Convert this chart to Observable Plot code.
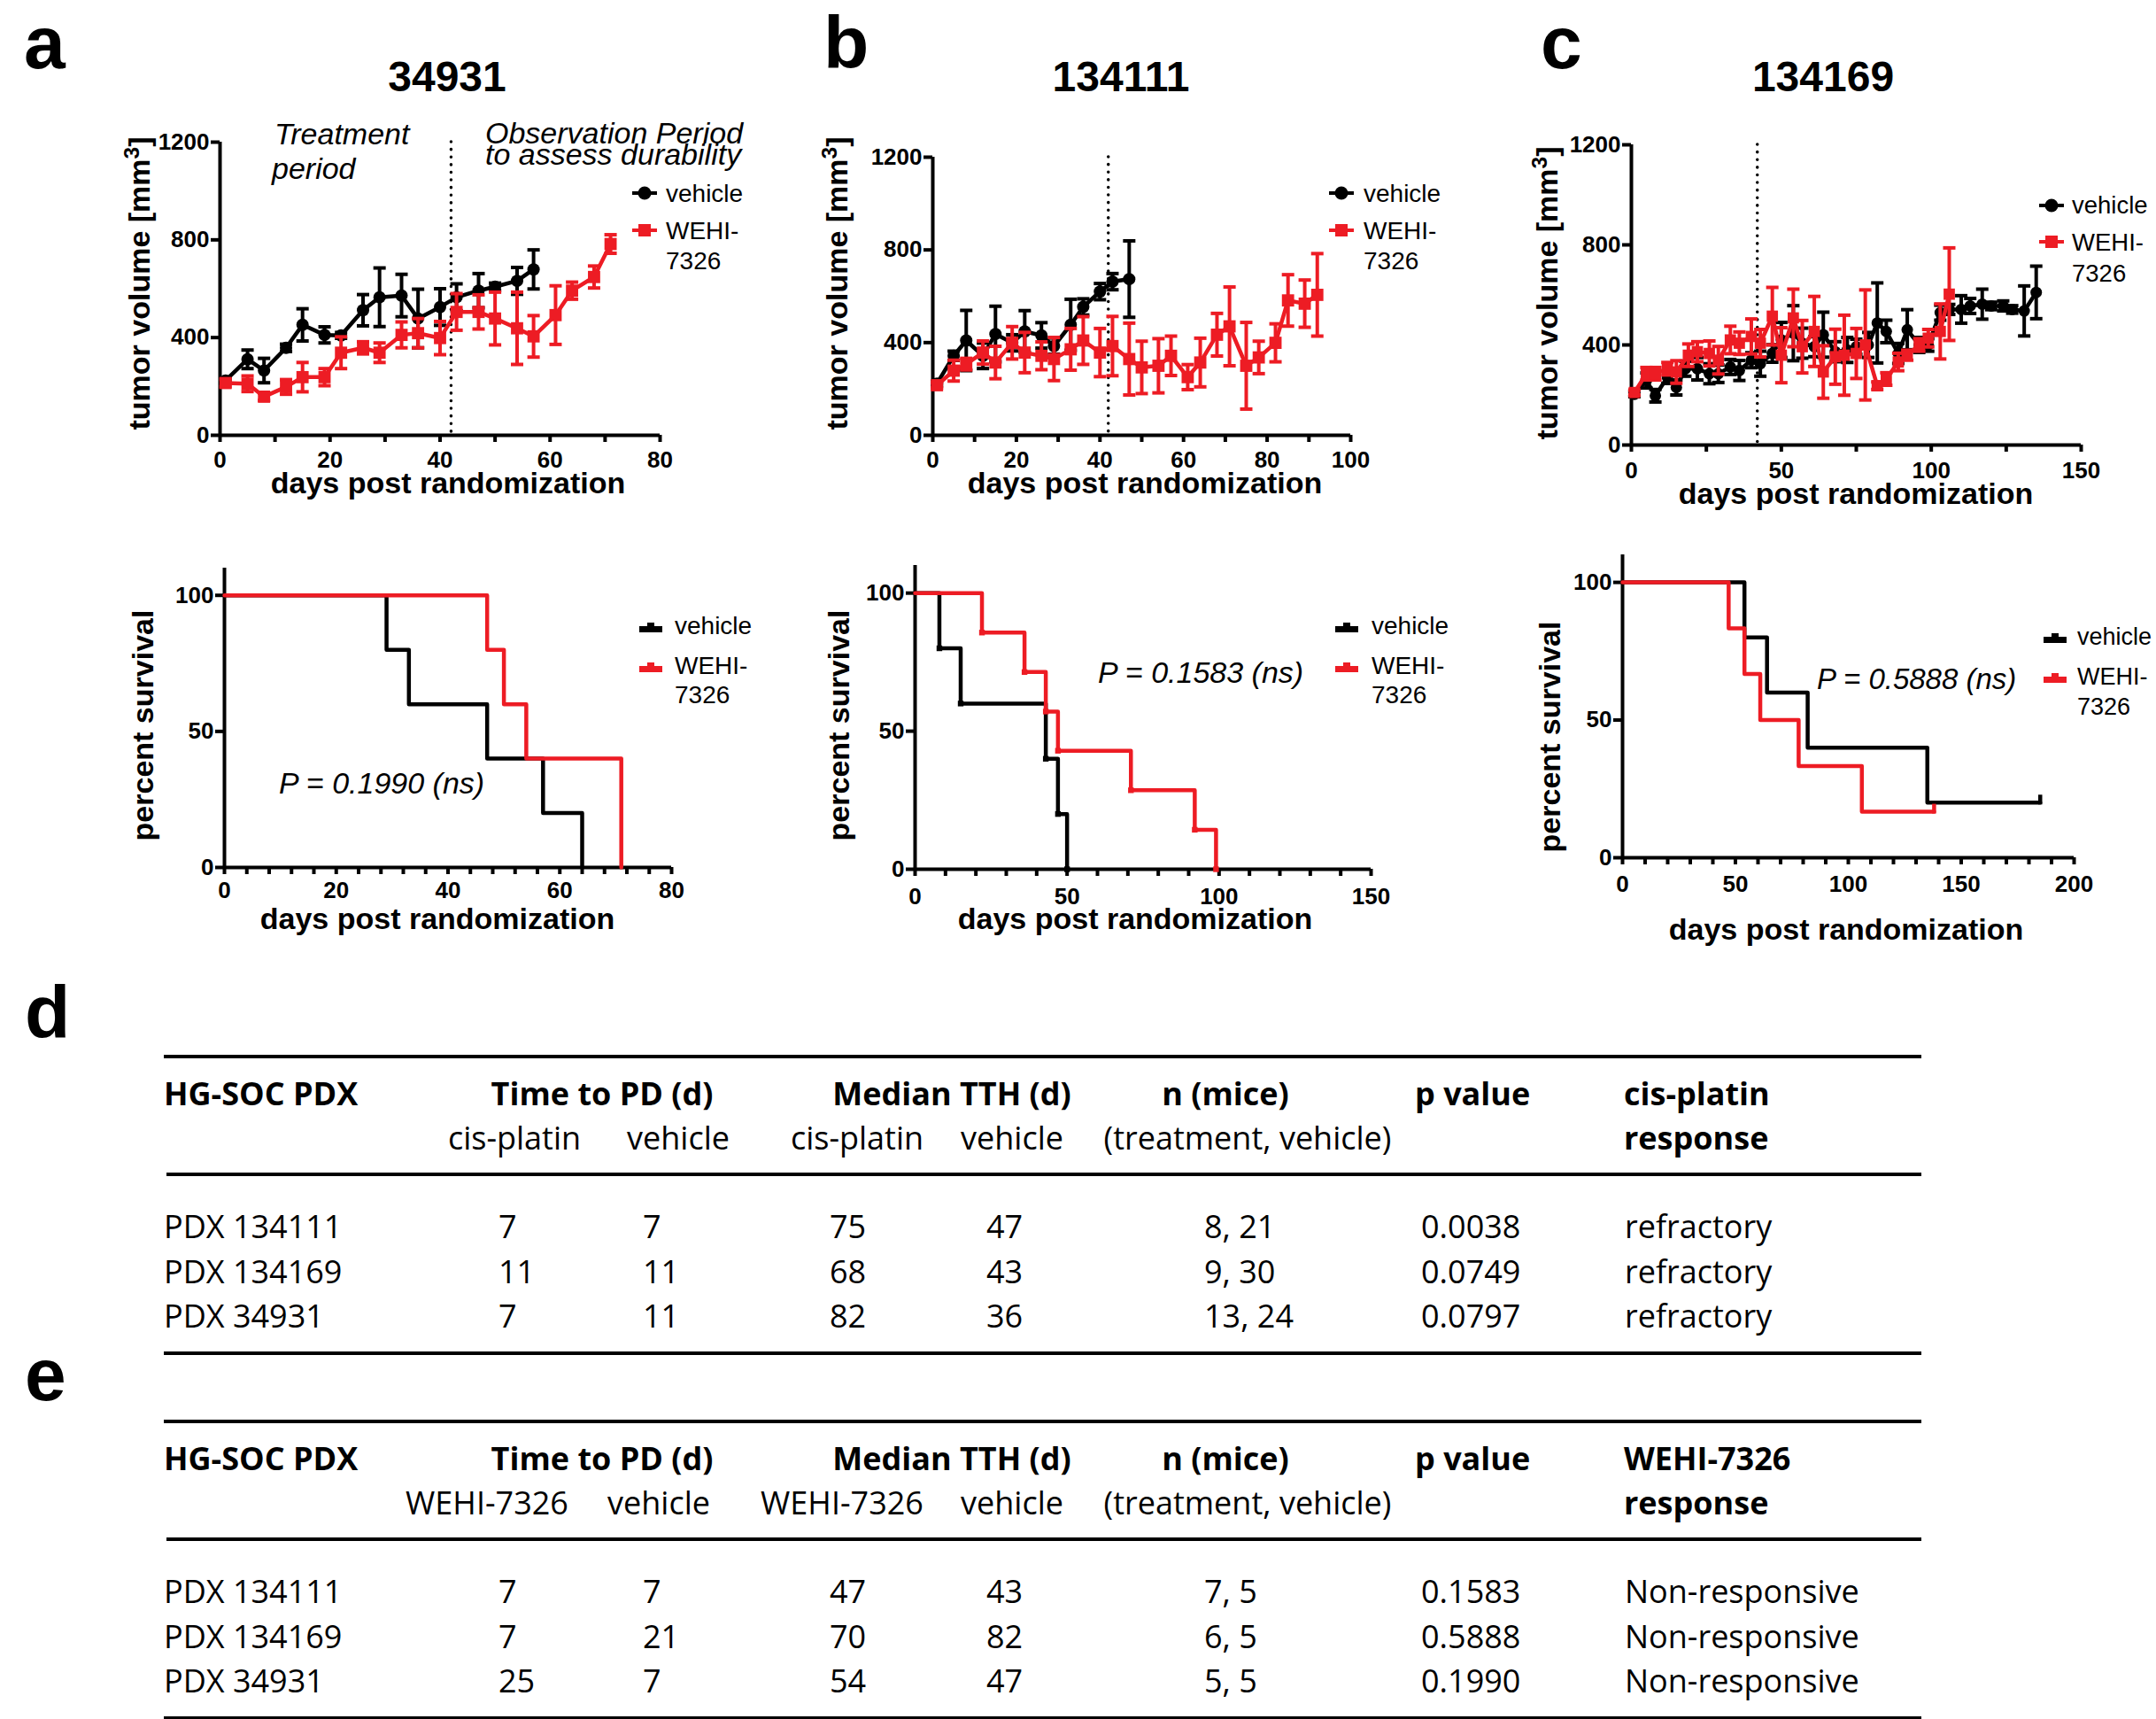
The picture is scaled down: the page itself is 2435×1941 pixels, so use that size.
<!DOCTYPE html>
<html><head><meta charset="utf-8">
<script src="https://cdn.jsdelivr.net/npm/d3@7"></script>
<script src="https://cdn.jsdelivr.net/npm/@observablehq/plot@0.6"></script>
<style>
html,body{margin:0;padding:0;background:#fff;}
#page{position:relative;width:2435px;height:1941px;overflow:hidden;background:#fff;color:#000;}
.abs{position:absolute;white-space:nowrap;line-height:1;}
.sup{font-size:0.72em;position:relative;top:-0.5em;}
</style></head><body><div id="page"></div>
<script>
// ---------------- DATA ----------------
const RED = "#ED1C24";
const treatmentEnd = [42];

// a: PDX 34931 tumour volume (mm3)
const a_vehDays  = [1,5,8,12,15,19,22,26,29,33,36,40,43,47,50,54,57];
const a_vehVol   = [224,311,265,358,452,411,409,512,565,572,478,525,565,592,608,632,679];
const a_vehErr   = [10,38,50,15,66,33,12,64,120,87,120,75,55,70,15,55,80];
const a_wehiDays = [1,5,8,12,15,19,22,26,29,33,36,40,43,47,50,54,57,61,64,68,71];
const a_wehiVol  = [214,211,158,198,238,238,338,358,338,411,418,398,505,505,478,438,405,492,592,648,783];
const a_wehiErr  = [15,32,15,30,60,35,65,25,40,53,60,68,75,70,108,148,85,120,35,45,38];

// b: PDX 134111 tumour volume
const b_vehDays  = [1,5,8,12,15,19,22,26,29,33,36,40,43,47];
const b_vehVol   = [223,343,409,343,437,399,448,431,385,477,554,620,663,674];
const b_vehErr   = [10,20,130,55,120,35,90,55,35,110,35,35,35,165];
const b_wehiDays = [1,5,8,12,15,19,22,26,29,33,36,40,43,47,50,54,57,61,64,68,71,75,78,82,85,89,92];
const b_wehiVol  = [216,279,307,357,314,399,357,343,329,371,409,357,385,329,293,300,343,251,314,434,470,300,336,399,582,568,606];
const b_wehiErr  = [12,45,25,50,70,70,87,60,93,90,103,104,128,155,113,117,85,54,105,92,170,187,70,82,111,102,178];

// c: PDX 134169 tumour volume
const c_vehDays  = [1,5,8,12,15,18,22,26,29,33,36,40,43,47,50,54,57,61,64,68,72,75,79,82,85,89,92,96,99,103,106,110,113,117,120,124,127,131,135];
const c_vehVol   = [203,258,197,271,230,305,305,285,285,312,298,339,325,366,420,447,407,393,441,373,380,393,400,488,454,366,461,400,400,529,542,542,556,563,556,556,542,536,610];
const c_vehErr   = [10,30,25,25,30,30,45,40,35,30,40,30,50,35,70,110,60,40,90,40,50,30,50,160,45,40,80,30,25,30,20,55,30,60,15,20,15,100,105];
const c_wehiDays = [1,5,8,12,15,19,22,26,29,33,36,40,43,47,50,54,57,61,64,68,71,75,78,82,85,89,92,96,99,103,106];
const c_wehiVol  = [210,285,285,305,292,359,373,366,339,420,407,434,407,515,359,508,393,454,292,353,359,366,400,237,264,332,359,400,427,454,603];
const c_wehiErr  = [10,25,25,25,45,45,40,50,55,55,45,70,55,115,110,115,105,140,105,110,160,100,220,15,25,35,20,25,35,110,185];

// Kaplan-Meier survival (days, percent)
const a_kmVehT  = [0,29,33,47,57,64];        const a_kmVehS  = [100,80,60,40,20,0];
const a_kmWehiT = [0,47,50,54,71];           const a_kmWehiS = [100,80,60,40,0];
const b_kmVehT  = [0,8,15,43,47,50];         const b_kmVehS  = [100,80,60,40,20,0];
const b_kmWehiT = [0,22,36,43,47,71,92,99];  const b_kmWehiS = [100,85.7,71.4,57.1,42.9,28.6,14.3,0];
const c_kmVehT  = [0,54,64,82,135,185];      const c_kmVehS  = [100,80,60,40,20,20];
const c_kmWehiT = [0,47,54,61,78,106,138];   const c_kmWehiS = [100,83.3,66.7,50,33.3,16.7,16.7];

// tick values
const tumorYTicks = [0,400,800,1200];
const survYTicks = [0,50,100];
const a_xTicks = [0,20,40,60,80], a_xMinor = [10,30,50,70];
const b_xTicks = [0,20,40,60,80,100], b_xMinor = [10,30,50,70,90];
const c_xTicks = [0,50,100,150], c_xMinor = [25,75,125];
const a2_xTicks = [0,20,40,60,80], a2_xMinor = [4,8,12,16,24,28,32,36,44,48,52,56,64,68,72,76];
const b2_xTicks = [0,50,100,150], b2_xMinor = [10,20,30,40,60,70,80,90,110,120,130,140];
const c2_xTicks = [0,50,100,150,200], c2_xMinor = [10,20,30,40,60,70,80,90,110,120,130,140,160,170,180,190];

const titles = ["34931","134111","134169"];
const pValues = ["P = 0.1990 (ns)","P = 0.1583 (ns)","P = 0.5888 (ns)"];
const seriesNames = ["vehicle","WEHI-","7326"];

// tables
const tableHead1 = ["HG-SOC PDX","Time to PD (d)","Median TTH (d)","n (mice)","p value"];
const tableD_drug = "cis-platin", tableE_drug = "WEHI-7326";
const tableSub = ["vehicle","(treatment, vehicle)","response"];
const tableD_pdx = ["PDX 134111","PDX 134169","PDX 34931"];
const tableD_ttpT = ["7","11","7"],  tableD_ttpV = ["7","11","11"];
const tableD_tthT = ["75","68","82"], tableD_tthV = ["47","43","36"];
const tableD_n = ["8, 21","9, 30","13, 24"];
const tableD_p = ["0.0038","0.0749","0.0797"];
const tableD_resp = ["refractory","refractory","refractory"];
const tableE_pdx = ["PDX 134111","PDX 134169","PDX 34931"];
const tableE_ttpT = ["7","7","25"],  tableE_ttpV = ["7","21","7"];
const tableE_tthT = ["47","70","54"], tableE_tthV = ["43","82","47"];
const tableE_n = ["7, 5","6, 5","5, 5"];
const tableE_p = ["0.1583","0.5888","0.1990"];
const tableE_resp = ["Non-responsive","Non-responsive","Non-responsive"];

// ---------------- HELPERS ----------------
const page = document.getElementById("page");
const SANS = "'Liberation Sans', Arial, Helvetica, sans-serif";
const TAB = "'Open Sans', 'Noto Sans', sans-serif";

function txt(content, x, base, o = {}) {
  const size = o.size || 28, fam = o.family || SANS;
  const k = fam === TAB ? 0.888 : 0.8465;
  const d = document.createElement("div");
  d.className = "abs";
  d.innerHTML = content;
  Object.assign(d.style, {fontFamily: fam, fontSize: size + "px", fontWeight: o.weight || "normal",
    fontStyle: o.italic ? "italic" : "normal", left: x + "px", top: (base - k * size) + "px"});
  if (o.anchor === "middle") d.style.transform = "translateX(-50%)";
  if (o.anchor === "end") d.style.transform = "translateX(-100%)";
  page.appendChild(d);
}
function vtxt(content, cx, cy, size) {
  const d = document.createElement("div");
  d.className = "abs";
  d.innerHTML = content;
  Object.assign(d.style, {fontFamily: SANS, fontSize: size + "px", fontWeight: "bold",
    left: cx + "px", top: cy + "px", transform: "translate(-50%,-50%) rotate(-90deg)"});
  page.appendChild(d);
}
function hline(x0, x1, y, w) {
  const d = document.createElement("div");
  Object.assign(d.style, {position: "absolute", left: x0 + "px", width: (x1 - x0) + "px",
    top: (y - w / 2) + "px", height: w + "px", background: "#000"});
  page.appendChild(d);
}
function svgAt(markup, x, y, w, h) {
  const d = document.createElement("div");
  Object.assign(d.style, {position: "absolute", left: x + "px", top: y + "px", width: w + "px", height: h + "px"});
  d.innerHTML = `<svg width="${w}" height="${h}" style="display:block">${markup}</svg>`;
  page.appendChild(d);
}

const capSym = {draw(ctx, size) { const r = Math.sqrt(size / Math.PI); ctx.moveTo(-r, 0); ctx.lineTo(r, 0); }};
const upTick = {draw(ctx, size) { const r = Math.sqrt(size / Math.PI); ctx.moveTo(0, 2); ctx.lineTo(0, -r); }};

function place(frame, xDomain, yDomain, marks) {
  const [x0, y0, x1, y1] = frame;
  const m = {l: 130, r: 40, t: 30, b: 70};
  const svg = Plot.plot({
    width: (x1 - x0) + m.l + m.r, height: (y1 - y0) + m.t + m.b,
    marginLeft: m.l, marginRight: m.r, marginTop: m.t, marginBottom: m.b,
    x: {domain: xDomain}, y: {domain: yDomain},
    style: {fontFamily: SANS, fontSize: "26px", fontWeight: "bold", background: "transparent", overflow: "visible", color: "#000"},
    marks
  });
  Object.assign(svg.style, {position: "absolute", left: (x0 - m.l) + "px", top: (y0 - m.t) + "px", maxWidth: "none"});
  page.appendChild(svg);
}

function axes(xTicks, xMinor, yTicks, padX) {
  return [
    Plot.ruleX([xTicks[0]], {stroke: "#000", strokeWidth: 4}),
    Plot.ruleY([yTicks[0]], {stroke: "#000", strokeWidth: 4}),
    Plot.axisX({ticks: xTicks, tickSize: 8, tickPadding: padX, strokeWidth: 4, label: null, tickFormat: d => String(d)}),
    Plot.axisX({ticks: xMinor, tickSize: 8, strokeWidth: 4, label: null, tickFormat: () => ""}),
    Plot.axisY({ticks: yTicks, tickSize: 10, tickPadding: 2, strokeWidth: 4, label: null, tickFormat: d => String(d)})
  ];
}

function tumorMarks(days, vol, err, color, symbol, r) {
  const rows = days.map((d, i) => ({day: d, vol: vol[i], err: err[i]}));
  return [
    Plot.ruleX(rows, {x: "day", y1: q => q.vol - q.err, y2: q => q.vol + q.err, stroke: color, strokeWidth: 4}),
    Plot.dot(rows, {x: "day", y: q => q.vol + q.err, symbol: capSym, r: 7, stroke: color, strokeWidth: 4, fill: "none"}),
    Plot.dot(rows, {x: "day", y: q => q.vol - q.err, symbol: capSym, r: 7, stroke: color, strokeWidth: 4, fill: "none"}),
    Plot.line(rows, {x: "day", y: "vol", stroke: color, strokeWidth: 4.5}),
    Plot.dot(rows, {x: "day", y: "vol", symbol, r, fill: color, stroke: "none"})
  ];
}
function kmMarks(T, S, color, opt = {}) {
  const rows = T.map((t, i) => ({t, s: S[i]}));
  const out = [Plot.line(rows, {x: "t", y: "s", curve: "step-after", stroke: color, strokeWidth: 4.5})];
  if (opt.steps) out.push(Plot.dot(rows.slice(1), {x: "t", y: "s", symbol: "square", r: 3.6, fill: color, stroke: "none"}));
  if (opt.censor) out.push(Plot.dot(rows.slice(-1), {x: "t", y: "s", symbol: upTick, r: 9, stroke: color, strokeWidth: 4.5, fill: "none"}));
  return out;
}
const dotted = Plot.ruleX(treatmentEnd, {stroke: "#000", strokeWidth: 3.5, strokeDasharray: "0.1,8.5", strokeLinecap: "round"});

// ---------------- TUMOUR VOLUME PANELS ----------------
place([248,160,745,491], [0,80], [0,1200], [
  ...axes(a_xTicks, a_xMinor, tumorYTicks, 10), dotted,
  ...tumorMarks(a_vehDays, a_vehVol, a_vehErr, "#000", "circle", 7),
  ...tumorMarks(a_wehiDays, a_wehiVol, a_wehiErr, RED, "square", 7.8)
]);
place([1053,177,1525,491], [0,100], [0,1200], [
  ...axes(b_xTicks, b_xMinor, tumorYTicks, 10), dotted,
  ...tumorMarks(b_vehDays, b_vehVol, b_vehErr, "#000", "circle", 7),
  ...tumorMarks(b_wehiDays, b_wehiVol, b_wehiErr, RED, "square", 7.8)
]);
place([1842,163,2350,502], [0,150], [0,1200], [
  ...axes(c_xTicks, c_xMinor, tumorYTicks, 11), dotted,
  ...tumorMarks(c_vehDays, c_vehVol, c_vehErr, "#000", "circle", 6.5),
  ...tumorMarks(c_wehiDays, c_wehiVol, c_wehiErr, RED, "square", 7.2)
]);

// ---------------- SURVIVAL PANELS ----------------
place([253,641,758,979], [0,80], [0,110], [
  ...axes(a2_xTicks, a2_xMinor, survYTicks, 8),
  ...kmMarks(a_kmVehT, a_kmVehS, "#000"),
  ...kmMarks(a_kmWehiT, a_kmWehiS, RED)
]);
place([1033,638,1548,981], [0,150], [0,110], [
  ...axes(b2_xTicks, b2_xMinor, survYTicks, 13),
  ...kmMarks(b_kmVehT, b_kmVehS, "#000", {steps: true}),
  ...kmMarks(b_kmWehiT, b_kmWehiS, RED, {steps: true})
]);
place([1832,626,2342,968], [0,200], [0,110], [
  ...axes(c2_xTicks, c2_xMinor, survYTicks, 12),
  ...kmMarks(c_kmVehT, c_kmVehS, "#000", {censor: true}),
  ...kmMarks(c_kmWehiT, c_kmWehiS, RED, {censor: true})
]);

// ---------------- TEXT: letters, titles, labels ----------------
txt("a", 27, 77, {size: 84, weight: "bold"});
txt("b", 930, 77, {size: 84, weight: "bold"});
txt("c", 1740, 77, {size: 84, weight: "bold"});
txt("d", 28, 1172, {size: 84, weight: "bold"});
txt("e", 28, 1581, {size: 84, weight: "bold"});

txt(titles[0], 505, 104, {size: 48, weight: "bold", anchor: "middle"});
txt(titles[1], 1266, 104, {size: 48, weight: "bold", anchor: "middle"});
txt(titles[2], 2059, 104, {size: 48, weight: "bold", anchor: "middle"});

const xLab = "days post randomization";
txt(xLab, 506, 557, {size: 34, weight: "bold", anchor: "middle"});
txt(xLab, 1293, 557, {size: 34, weight: "bold", anchor: "middle"});
txt(xLab, 2096, 569, {size: 34, weight: "bold", anchor: "middle"});
txt(xLab, 494, 1049, {size: 34, weight: "bold", anchor: "middle"});
txt(xLab, 1282, 1049, {size: 34, weight: "bold", anchor: "middle"});
txt(xLab, 2085, 1061, {size: 34, weight: "bold", anchor: "middle"});

const yLab = 'tumor volume [mm<span class="sup">3</span>]';
vtxt(yLab, 157, 320, 34);
vtxt(yLab, 945, 320, 34);
vtxt(yLab, 1747, 331, 34);
vtxt("percent survival", 161, 819, 34);
vtxt("percent survival", 947, 819, 34);
vtxt("percent survival", 1750, 832, 34);

// treatment / observation annotations (panel a)
txt("Treatment", 310, 163, {size: 34, italic: true});
txt("period", 307, 202, {size: 34, italic: true});
txt("Observation Period", 548, 162, {size: 34, italic: true});
txt("to assess durability", 548, 186, {size: 34, italic: true});

// p values
txt(pValues[0], 315, 896, {size: 34, italic: true});
txt(pValues[1], 1240, 771, {size: 34, italic: true});
txt(pValues[2], 2052, 778, {size: 33, italic: true});

// ---------------- LEGENDS ----------------
function tumorLegend(mx, yV, yW, tx, bV, bW, b7, fs) {
  svgAt(`<line x1="2" y1="12" x2="30" y2="12" stroke="#000" stroke-width="4"/><circle cx="16" cy="12" r="7.5" fill="#000"/>`, mx - 16, yV - 12, 32, 24);
  svgAt(`<line x1="2" y1="12" x2="30" y2="12" stroke="${RED}" stroke-width="4"/><rect x="9" y="5" width="14" height="14" fill="${RED}"/>`, mx - 16, yW - 12, 32, 24);
  txt(seriesNames[0], tx, bV, {size: fs});
  txt(seriesNames[1], tx, bW, {size: fs});
  txt(seriesNames[2], tx, b7, {size: fs});
}
function survLegend(mx, yV, yW, tx, bV, bW, b7, fs) {
  const mk = c => `<rect x="0" y="4" width="26" height="7" fill="${c}"/><rect x="9" y="0" width="8" height="5" fill="${c}"/>`;
  svgAt(mk("#000"), mx - 13, yV - 6, 26, 12);
  svgAt(mk(RED), mx - 13, yW - 6, 26, 12);
  txt(seriesNames[0], tx, bV, {size: fs});
  txt(seriesNames[1], tx, bW, {size: fs});
  txt(seriesNames[2], tx, b7, {size: fs});
}
tumorLegend(728, 218, 260, 752, 229, 271, 305, 28);
tumorLegend(1515, 218, 260, 1540, 229, 271, 305, 28);
tumorLegend(2317, 232, 273, 2340, 241, 283, 318, 27.5);
survLegend(735, 709, 754, 762, 717, 762, 795, 28);
survLegend(1521, 709, 754, 1549, 717, 762, 795, 28);
survLegend(2321, 721, 766, 2346, 729, 774, 808, 27);

// ---------------- TABLES ----------------
function drawTable(top, drug, subDrug, pdx, ttpT, ttpV, tthT, tthV, n, p, resp, subCenters) {
  // top = y of top rule
  const L0 = 185, L1 = 2170, FS = 36;
  hline(L0, L1, top, 4);
  hline(L0 + 3, L1, top + 133, 4);
  hline(L0, L1, top + 335, 4);
  const h1 = top + 56, h2 = top + 106;
  txt(tableHead1[0], 185, h1, {size: FS, weight: "bold", family: TAB});
  txt(tableHead1[1], 680, h1, {size: FS, weight: "bold", family: TAB, anchor: "middle"});
  txt(tableHead1[2], 1075, h1, {size: FS, weight: "bold", family: TAB, anchor: "middle"});
  txt(tableHead1[3], 1384, h1, {size: FS, weight: "bold", family: TAB, anchor: "middle"});
  txt(tableHead1[4], 1598, h1, {size: FS, weight: "bold", family: TAB});
  txt(drug, 1834, h1, {size: FS, weight: "bold", family: TAB});
  txt(subDrug, subCenters[0], h2, {size: FS, family: TAB, anchor: "middle"});
  txt(tableSub[0], subCenters[1], h2, {size: FS, family: TAB, anchor: "middle"});
  txt(subDrug, subCenters[2], h2, {size: FS, family: TAB, anchor: "middle"});
  txt(tableSub[0], 1143, h2, {size: FS, family: TAB, anchor: "middle"});
  txt(tableSub[1], 1409, h2, {size: FS, family: TAB, anchor: "middle"});
  txt(tableSub[2], 1834, h2, {size: FS, weight: "bold", family: TAB});
  pdx.forEach((name, i) => {
    const b = top + 206 + i * 50.5;
    txt(name, 185, b, {size: FS, family: TAB});
    txt(ttpT[i], 563, b, {size: FS, family: TAB});
    txt(ttpV[i], 726, b, {size: FS, family: TAB});
    txt(tthT[i], 937, b, {size: FS, family: TAB});
    txt(tthV[i], 1114, b, {size: FS, family: TAB});
    txt(n[i], 1360, b, {size: FS, family: TAB});
    txt(p[i], 1605, b, {size: FS, family: TAB});
    txt(resp[i], 1835, b, {size: FS, family: TAB});
  });
}
drawTable(1193, "cis-platin", tableD_drug, tableD_pdx, tableD_ttpT, tableD_ttpV, tableD_tthT, tableD_tthV, tableD_n, tableD_p, tableD_resp, [581, 766, 968]);
drawTable(1605, "WEHI-7326", tableE_drug, tableE_pdx, tableE_ttpT, tableE_ttpV, tableE_tthT, tableE_tthV, tableE_n, tableE_p, tableE_resp, [550, 744, 951]);
</script>
</body></html>
